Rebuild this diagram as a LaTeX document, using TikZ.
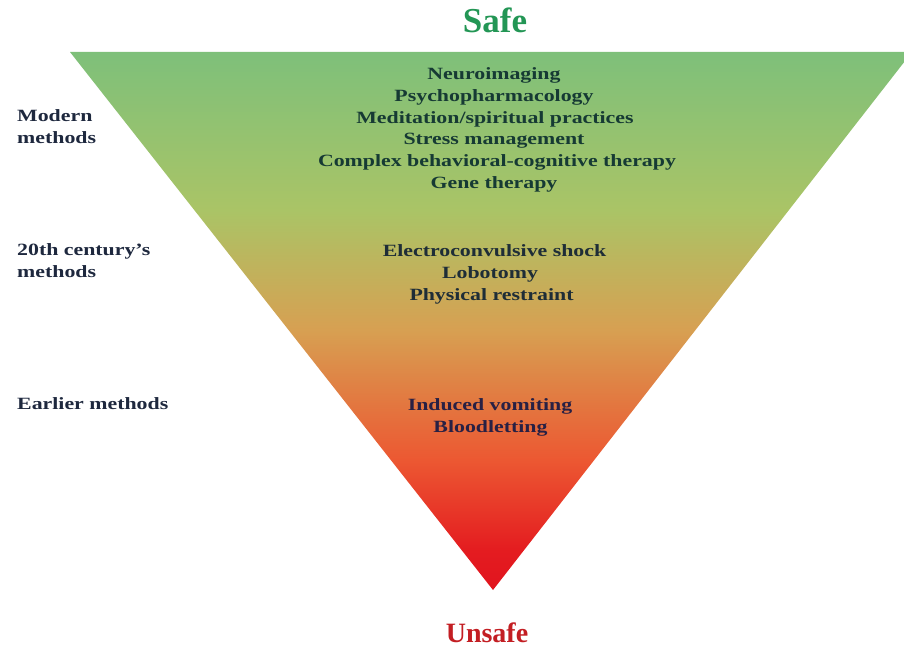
\documentclass[tikz,border=0pt]{standalone}
\usepackage{fontspec}
\setmainfont{Liberation Serif}
\newfontfamily\widefont{Liberation Serif}[FakeStretch=1.27]
\definecolor{cG0}{RGB}{126,192,122}
\definecolor{cG1}{RGB}{170,196,102}
\definecolor{cO1}{RGB}{215,160,82}
\definecolor{cO2}{RGB}{236,88,50}
\definecolor{cR1}{RGB}{228,28,32}
\definecolor{cR0}{RGB}{225,20,30}
\definecolor{safegreen}{RGB}{35,150,85}
\definecolor{unsafered}{RGB}{195,30,35}
\definecolor{tealtext}{RGB}{22,58,52}
\definecolor{navytext}{RGB}{30,40,62}
\definecolor{midtext}{RGB}{30,45,55}
\definecolor{lowtext}{RGB}{40,32,68}
\pgfdeclareverticalshading{trishade}{100bp}{color(0bp)=(cR0); color(25bp)=(cR0); color(28.7bp)=(cR1); color(37.1bp)=(cO2); color(49.2bp)=(cO1); color(60.3bp)=(cG1); color(75bp)=(cG0); color(100bp)=(cG0)}
\tikzset{
  item/.style={anchor=base, inner sep=0pt, font=\widefont\bfseries\fontsize{17.2}{20}\selectfont},
  side/.style={anchor=base west, inner sep=0pt, text=navytext, font=\widefont\bfseries\fontsize{17.2}{20}\selectfont},
  title/.style={anchor=base, inner sep=0pt, font=\bfseries\fontsize{35}{40}\selectfont},
}
\begin{document}
\begin{tikzpicture}[x=1pt,y=-1pt]
\useasboundingbox (0,0) rectangle (904,647);
\clip (0,0) rectangle (904,647);
\coordinate (TL) at (70,52);
\coordinate (TR) at (912,52);
\coordinate (AP) at (493,590);
\shade[shading=trishade] (TL) -- (TR) -- (AP) -- cycle;

\node[title, text=safegreen] (safe) at (495,33) {Safe};
\node[title, text=unsafered, font=\bfseries\fontsize{28}{30}\selectfont] (unsafe) at (487,642) {Unsafe};

\node[item, text=tealtext] (n1) at (494,79.5) {Neuroimaging};
\node[item, text=tealtext] (n2) at (494,101.3) {Psychopharmacology};
\node[item, text=tealtext] (n3) at (495,123.1) {Meditation/spiritual practices};
\node[item, text=tealtext] (n4) at (494,144.9) {Stress management};
\node[item, text=tealtext] (n5) at (497,166.7) {Complex behavioral-cognitive therapy};
\node[item, text=tealtext] (n6) at (494,188.5) {Gene therapy};

\node[item, text=midtext] (m1) at (494.5,256) {Electroconvulsive shock};
\node[item, text=midtext] (m2) at (490,278) {Lobotomy};
\node[item, text=midtext] (m3) at (491.5,300) {Physical restraint};

\node[item, text=lowtext] (e1) at (490,410) {Induced vomiting};
\node[item, text=lowtext] (e2) at (490.5,432.5) {Bloodletting};

\node[side] (s1) at (17,122) {Modern};
\node[side] (s2) at (17,144) {methods};
\node[side] (s3) at (17,255) {20th century’s};
\node[side] (s4) at (17,277) {methods};
\node[side] (s5) at (17,409) {Earlier methods};
\end{tikzpicture}
\end{document}
